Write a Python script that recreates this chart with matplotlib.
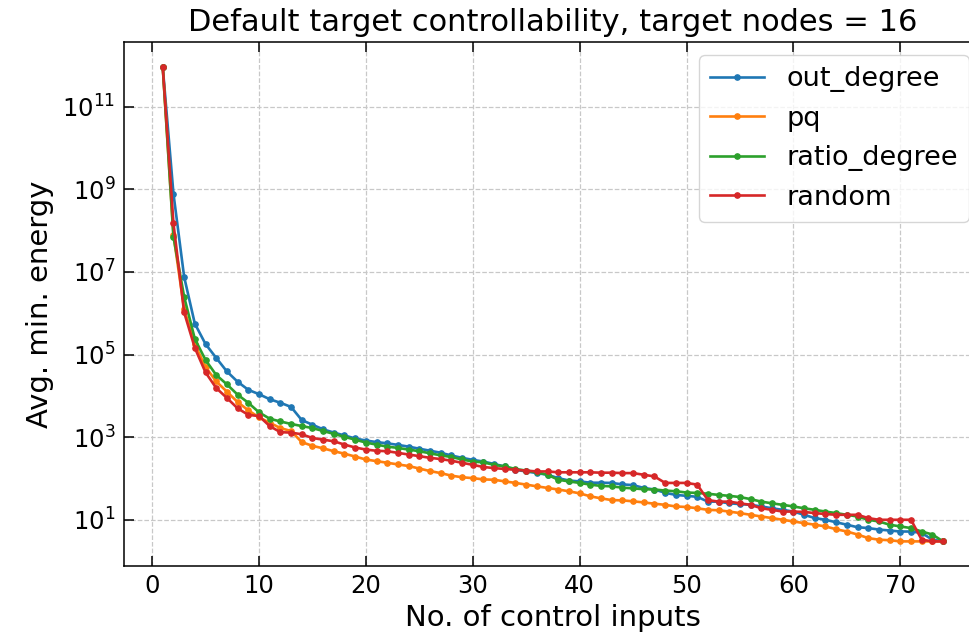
import numpy as np
import matplotlib

matplotlib.use("Agg")
import matplotlib.pyplot as plt
from matplotlib.ticker import FixedLocator, NullLocator

# No. of control inputs
n_inputs = list(range(1, 75))

# Avg. min. energy
out_degree = [
    9.1e11, 7.9e8, 7.6e6, 5.6e5, 1.8e5, 8.3e4, 3.9e4, 2.2e4, 1.4e4, 1.1e4,
    8300, 6800, 5400, 2600, 2000, 1550, 1290, 1100, 930, 830,
    760, 710, 650, 590, 525, 470, 420, 360, 316, 282,
    257, 224, 195, 162, 148, 135, 123, 102, 89, 85,
    79, 79, 78, 72, 69, 59, 54, 45, 40, 38,
    36, 27.5, 27.5, 25, 24, 23, 21, 19, 17.4, 15.8,
    13.2, 11, 10, 8.7, 7.6, 6.6, 6.3, 5.8, 5.5, 5.2,
    5.2, 4.8, 3.3, 3.0,
]
pq = [
    9.1e11, 7.9e7, 1.26e6, 1.78e5, 5.0e4, 2.24e4, 1.26e4, 7100, 4470, 3020,
    2240, 1660, 1410, 759, 617, 537, 457, 398, 339, 288,
    263, 240, 219, 200, 174, 151, 135, 117, 107, 102,
    95, 93, 85, 78, 71, 64.5, 59, 54, 49, 43.6,
    37, 33, 30, 29.5, 28, 26.3, 24.5, 23, 21, 20.4,
    19, 17.4, 17, 15.8, 14.5, 13.2, 12, 11, 10, 9.1,
    8.3, 7.6, 6.9, 5.9, 5.2, 4.4, 3.6, 3.3, 3.2, 3.0,
    3.0, 3.0, 3.0, 3.0,
]
ratio_degree = [
    9.1e11, 7.1e7, 2.5e6, 2.4e5, 7.4e4, 3.2e4, 1.9e4, 1.07e4, 6800, 4000,
    2800, 2400, 2090, 1860, 1660, 1410, 1200, 1020, 870, 740,
    660, 590, 550, 500, 457, 407, 363, 331, 288, 257,
    245, 214, 195, 170, 155, 141, 123, 93, 85, 78,
    71, 66, 64.5, 60, 57.5, 55, 54, 51, 49, 45.7,
    44.7, 42.7, 40, 38, 35.5, 31.6, 27.5, 25, 23, 21,
    19, 17.4, 15.8, 14.5, 13.2, 12, 10, 9.1, 7.6, 6.9,
    6.3, 5.2, 4.4, 3.0,
]
random_sel = [
    9.1e11, 1.5e8, 1.05e6, 1.45e5, 3.7e4, 1.55e4, 8900, 5000, 3470, 3240,
    1860, 1320, 1290, 1175, 955, 871, 794, 661, 562, 501,
    468, 457, 417, 380, 347, 316, 295, 269, 240, 214,
    190, 178, 170, 162, 155, 148, 148, 141, 141, 141,
    141, 138, 138, 135, 135, 123, 112, 78, 78, 78,
    71, 30, 27.5, 27.5, 25, 23, 19, 17.4, 15.8, 15.8,
    15.5, 14.5, 13.8, 13.2, 13.2, 13.2, 11, 10, 10, 10,
    10, 3.3, 3.0, 3.0,
]

series = [
    ("out_degree", out_degree),
    ("pq", pq),
    ("ratio_degree", ratio_degree),
    ("random", random_sel),
]

y_ticks = [1e1, 1e3, 1e5, 1e7, 1e9, 1e11]


def main():
    fig = plt.figure(figsize=(9.69, 6.35), dpi=100)
    # the right edge of the axes runs a little past the figure, as in the reference crop
    ax = fig.add_axes([0.1277, 0.109, 0.8858, 0.825])

    for name, values in series:
        ax.plot(n_inputs, values, marker="o", markersize=3.8, linewidth=1.9, label=name)

    ax.set_yscale("log")
    ax.set_xlim(-2.65, 77.65)
    ax.set_ylim(0.77, 3.7e12)
    ax.yaxis.set_major_locator(FixedLocator(y_ticks))
    ax.yaxis.set_minor_locator(NullLocator())
    ax.set_xticks(range(0, 80, 10))

    ax.grid(True, linestyle="--", color="#c8c8c8", linewidth=0.9)
    ax.tick_params(direction="in", top=True, right=True, length=7, width=1.1,
                   labelsize=17.5, pad=6)
    for spine in ax.spines.values():
        spine.set_linewidth(1.1)

    ax.set_title("Default target controllability, target nodes = 16", fontsize=22, pad=8)
    ax.set_xlabel("No. of control inputs", fontsize=21, labelpad=4)
    ax.set_ylabel("Avg. min. energy", fontsize=21, labelpad=6)
    ax.legend(loc="upper right", fontsize=19.5, handlelength=2.0)

    fig.savefig("out.png", dpi=100)
    plt.close(fig)


if __name__ == "__main__":
    main()
